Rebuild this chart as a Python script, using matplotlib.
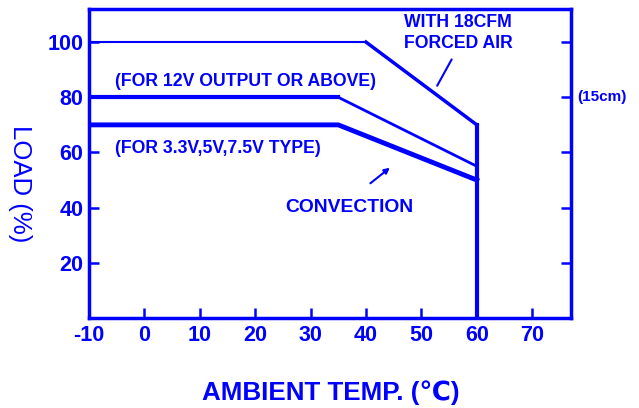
import numpy as np
import matplotlib.pyplot as plt

BLUE = '#0000ff'
plt.rcParams['font.family'] = ['Liberation Sans', 'DejaVu Sans']
plt.rcParams['font.weight'] = 'bold'

# derating curves
temp_forced = [-10, 40, 60, 60]
load_forced = [100, 100, 70, 0]
temp_12v = [-10, 35, 60]
load_12v = [80, 80, 55]
temp_33v = [-10, 35, 60]
load_33v = [70, 70, 50]

xticks = [-10, 0, 10, 20, 30, 40, 50, 60, 70]
xlabels = ['-10', '0', '10', '20', '30', '40', '50', '60', '70']
yticks = [20, 40, 60, 80, 100]

fig = plt.figure(figsize=(6.39, 4.08), dpi=100)
ax = fig.add_axes([89/639, 1 - 318/408, (571 - 89)/639, (318 - 9)/408])

# forced air: flat part thin, slope and cut-off thicker
ax.plot(temp_forced[:2], load_forced[:2], color=BLUE, lw=1.5)
ax.plot(temp_forced[1:3], load_forced[1:3], color=BLUE, lw=2.5)
ax.plot(temp_forced[2:], load_forced[2:], color=BLUE, lw=3)
# convection
ax.plot(temp_12v[:2], load_12v[:2], color=BLUE, lw=3)
ax.plot(temp_12v[1:], load_12v[1:], color=BLUE, lw=2)
ax.plot(temp_33v, load_33v, color=BLUE, lw=3.5)

ax.set_xlim(-10, 77)
ax.set_ylim(0, 112)
ax.set_xticks(xticks)
ax.set_xticklabels(xlabels)
ax.set_yticks(yticks)
for s in ax.spines.values():
    s.set_color(BLUE)
    s.set_linewidth(2.5)
ax.tick_params(direction='in', length=7, width=1.8, colors=BLUE,
               labelsize=15.5, right=True, top=False)
ax.tick_params(axis='x', pad=5)
ax.tick_params(axis='y', pad=4)

ax.text(56.6, 103.3, 'WITH 18CFM\nFORCED AIR', color=BLUE, fontsize=12.7,
        ha='center', va='center', linespacing=1.25)
ax.annotate('', xy=(52.6, 83.3), xytext=(55.7, 94.6),
            arrowprops=dict(arrowstyle='-', color=BLUE, lw=1.5))
ax.text(-5.3, 85.9, '(FOR 12V OUTPUT OR ABOVE)', color=BLUE, fontsize=12.7,
        va='center')
ax.text(-5.3, 61.6, '(FOR 3.3V,5V,7.5V TYPE)', color=BLUE, fontsize=12.7,
        va='center')
ax.text(25.4, 40.2, 'CONVECTION', color=BLUE, fontsize=13.9, va='center')
ax.annotate('', xy=(44.7, 55.1), xytext=(40.4, 48.2),
            arrowprops=dict(arrowstyle='-|>', color=BLUE, lw=1.5,
                            mutation_scale=8))
ax.text(1.012, 80 / 112, '(15cm)', transform=ax.transAxes, color=BLUE,
        fontsize=11, va='center')

fig.text(20/639, 1 - 184/408, 'LOAD (%)', color=BLUE, fontsize=18.5,
         rotation=-90, ha='center', va='center', fontweight='normal')
fig.text(331/639, 1 - 393/408, 'AMBIENT TEMP. (℃)', color=BLUE, fontsize=18.7,
         ha='center', va='center')

fig.savefig('out.png', dpi=100)
